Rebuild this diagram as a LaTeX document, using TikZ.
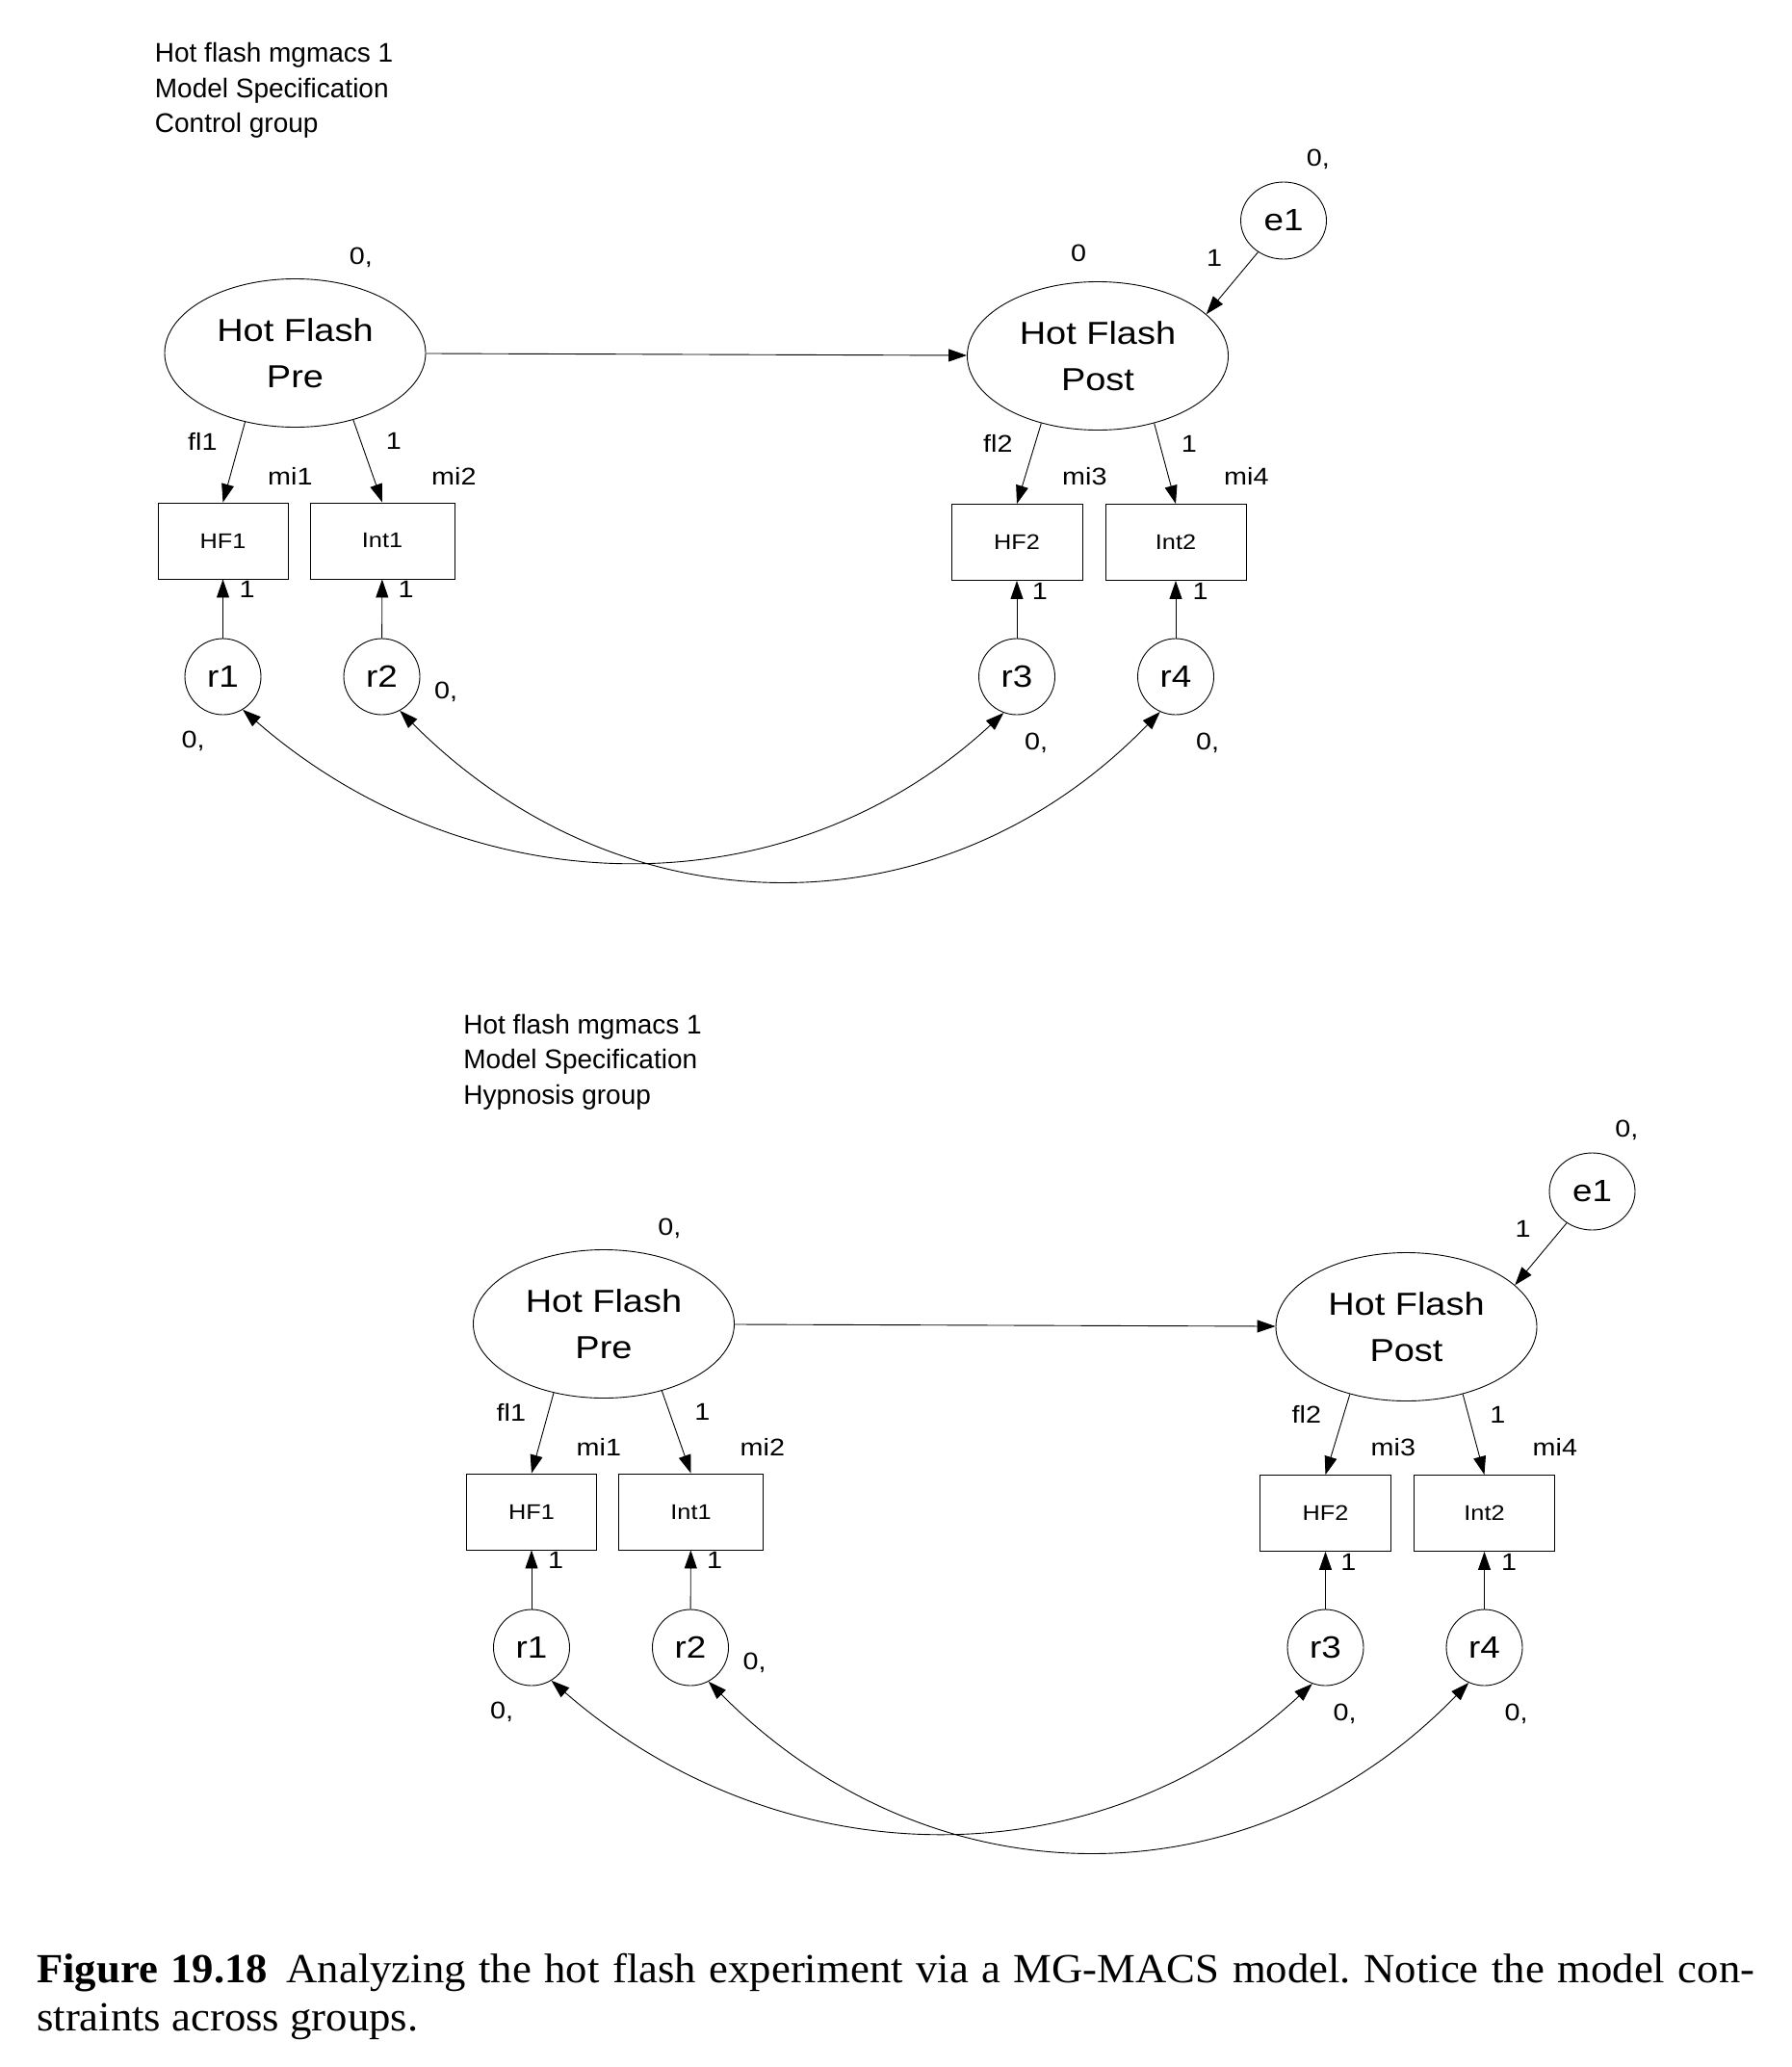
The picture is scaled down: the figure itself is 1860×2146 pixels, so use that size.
\documentclass[tikz,border=0pt]{standalone}
\usepackage{fontspec}
\setmainfont{Liberation Sans}
\newfontfamily\labfont{Liberation Sans}[FakeStretch=1.15]
\newfontfamily\latfont{Liberation Sans}[FakeStretch=1.15]
\newfontfamily\capfont{Liberation Serif}[FakeStretch=1.04]
\usetikzlibrary{arrows.meta,shapes.geometric}
\tikzset{
 lat/.style={ellipse, draw, line width=0.9pt, minimum width=271pt, minimum height=154pt, inner sep=0pt, align=center, font=\latfont\fontsize{33}{48}\selectfont},
 errc/.style={circle, draw, line width=0.9pt, minimum size=79pt, inner sep=0pt, font=\latfont\fontsize{32}{36}\selectfont},
 erre/.style={ellipse, draw, line width=0.9pt, minimum width=89pt, minimum height=80pt, inner sep=0pt, font=\latfont\fontsize{32}{36}\selectfont},
 obs/.style={rectangle, draw, line width=0.9pt, minimum height=79pt, inner sep=0pt, font=\labfont\fontsize{22}{25}\selectfont},
 lab/.style={anchor=base west, inner sep=0pt, font=\labfont\fontsize{25}{27}\selectfont},
 ttl/.style={anchor=base west, inner sep=0pt, font=\fontsize{28}{36}\selectfont},
 capt/.style={anchor=base west, inner sep=0pt, font=\capfont\fontsize{43}{50}\selectfont},
 conn/.style={line width=0.9pt, ->},
 cov/.style={line width=0.9pt, <->},
 >={Triangle[length=19pt,width=13pt]}
}
\newcommand\semdiag[1]{%
 \node[lat] (#1pre) at (306.5,366.5) {Hot Flash\\Pre};
 \node[lat] (#1post) at (1140,369.5) {Hot Flash\\Post};
 \node[erre] (#1e1) at (1333,229) {e1};
 \node[obs, minimum width=135pt] (#1hf1) at (231.5,561.5) {HF1};
 \node[obs, minimum width=150pt] (#1int1) at (397,561.5) {Int1};
 \node[obs, minimum width=136pt] (#1hf2) at (1056,563) {HF2};
 \node[obs, minimum width=146pt] (#1int2) at (1221,563) {Int2};
 \node[errc] (#1r1) at (231.5,702.5) {r1};
 \node[errc] (#1r2) at (396.5,702.5) {r2};
 \node[errc] (#1r3) at (1056,702.5) {r3};
 \node[errc] (#1r4) at (1221,702.5) {r4};
 \draw[conn] (#1pre) -- (#1post);
 \draw[conn] (#1e1.-129.5) -- (#1post.21.5);
 \draw[conn] (#1pre.-126.6) -- (#1hf1.north);
 \draw[conn] (#1pre.-49.2) -- (#1int1.north);
 \draw[conn] (#1post.-130.4) -- (#1hf2.north);
 \draw[conn] (#1post.-50.1) -- (#1int2.north);
 \draw[conn] (#1r1) -- (#1hf1);
 \draw[conn] (#1r2) -- (#1int1);
 \draw[conn] (#1r3) -- (#1hf2);
 \draw[conn] (#1r4) -- (#1int2);
 \draw[cov] (#1r1.-59) .. controls +(238,207) and +(-223,207) .. (#1r3.-110);
 \draw[cov] (#1r2.-62) .. controls +(232,233) and +(-226,233) .. (#1r4.-114);
 \node[lab] (#1lpre) at (362.7,274.3) {0,};
 \node[lab] (#1le1) at (1356.7,172.3) {0,};
 \node[lab] (#1lw) at (1253,276.7) {1};
 \node[lab] (#1lfa) at (195,467.3) {fl1};
 \node[lab] (#1lfb) at (400.7,466.7) {1};
 \node[lab] (#1lmia) at (278,503.3) {mi1};
 \node[lab] (#1lmib) at (448,503.3) {mi2};
 \node[lab] (#1lra) at (248.3,620.7) {1};
 \node[lab] (#1lrb) at (413.3,620.7) {1};
 \node[lab] (#1lva) at (188.5,776.7) {0,};
 \node[lab] (#1lvb) at (451,725) {0,};
 \node[lab] (#1lfc) at (1021,469.3) {fl2};
 \node[lab] (#1lfd) at (1226.7,469.3) {1};
 \node[lab] (#1lmic) at (1103,503.3) {mi3};
 \node[lab] (#1lmid) at (1271,503.3) {mi4};
 \node[lab] (#1lrc) at (1071.7,622.7) {1};
 \node[lab] (#1lrd) at (1238.3,622.7) {1};
 \node[lab] (#1lvc) at (1064,778.3) {0,};
 \node[lab] (#1lvd) at (1242,778.3) {0,};
}
\begin{document}
\begin{tikzpicture}[x=1pt,y=-1pt]
\fill[white] (0,0) rectangle (1860,2146);
\useasboundingbox (0,0) rectangle (1860,2146);
% top: control group
\node[ttl] (ta) at (160.7,65) {Hot flash mgmacs 1};
\node[ttl] (tb) at (160.7,101.5) {Model Specification};
\node[ttl] (tc) at (160.7,138) {Control group};
\semdiag{t}
\node[lab] (tlpost) at (1112,271) {0};
% bottom: hypnosis group
\begin{scope}[shift={(320.5,1008)}]
\node[ttl] (ba) at (160.7,65) {Hot flash mgmacs 1};
\node[ttl] (bb) at (160.7,101.5) {Model Specification};
\node[ttl] (bc) at (160.7,138) {Hypnosis group};
\semdiag{b}
\end{scope}
% caption
\node[capt] (cap1) at (38,2058)
 {\frenchspacing\makebox[1784pt][s]{\textbf{Figure 19.18}\hspace{0.45em}Analyzing the hot flash experiment via a MG-MACS model. Notice the model con-}};
\node[capt] (cap2) at (38,2108) {straints across groups.};
\end{tikzpicture}
\end{document}
